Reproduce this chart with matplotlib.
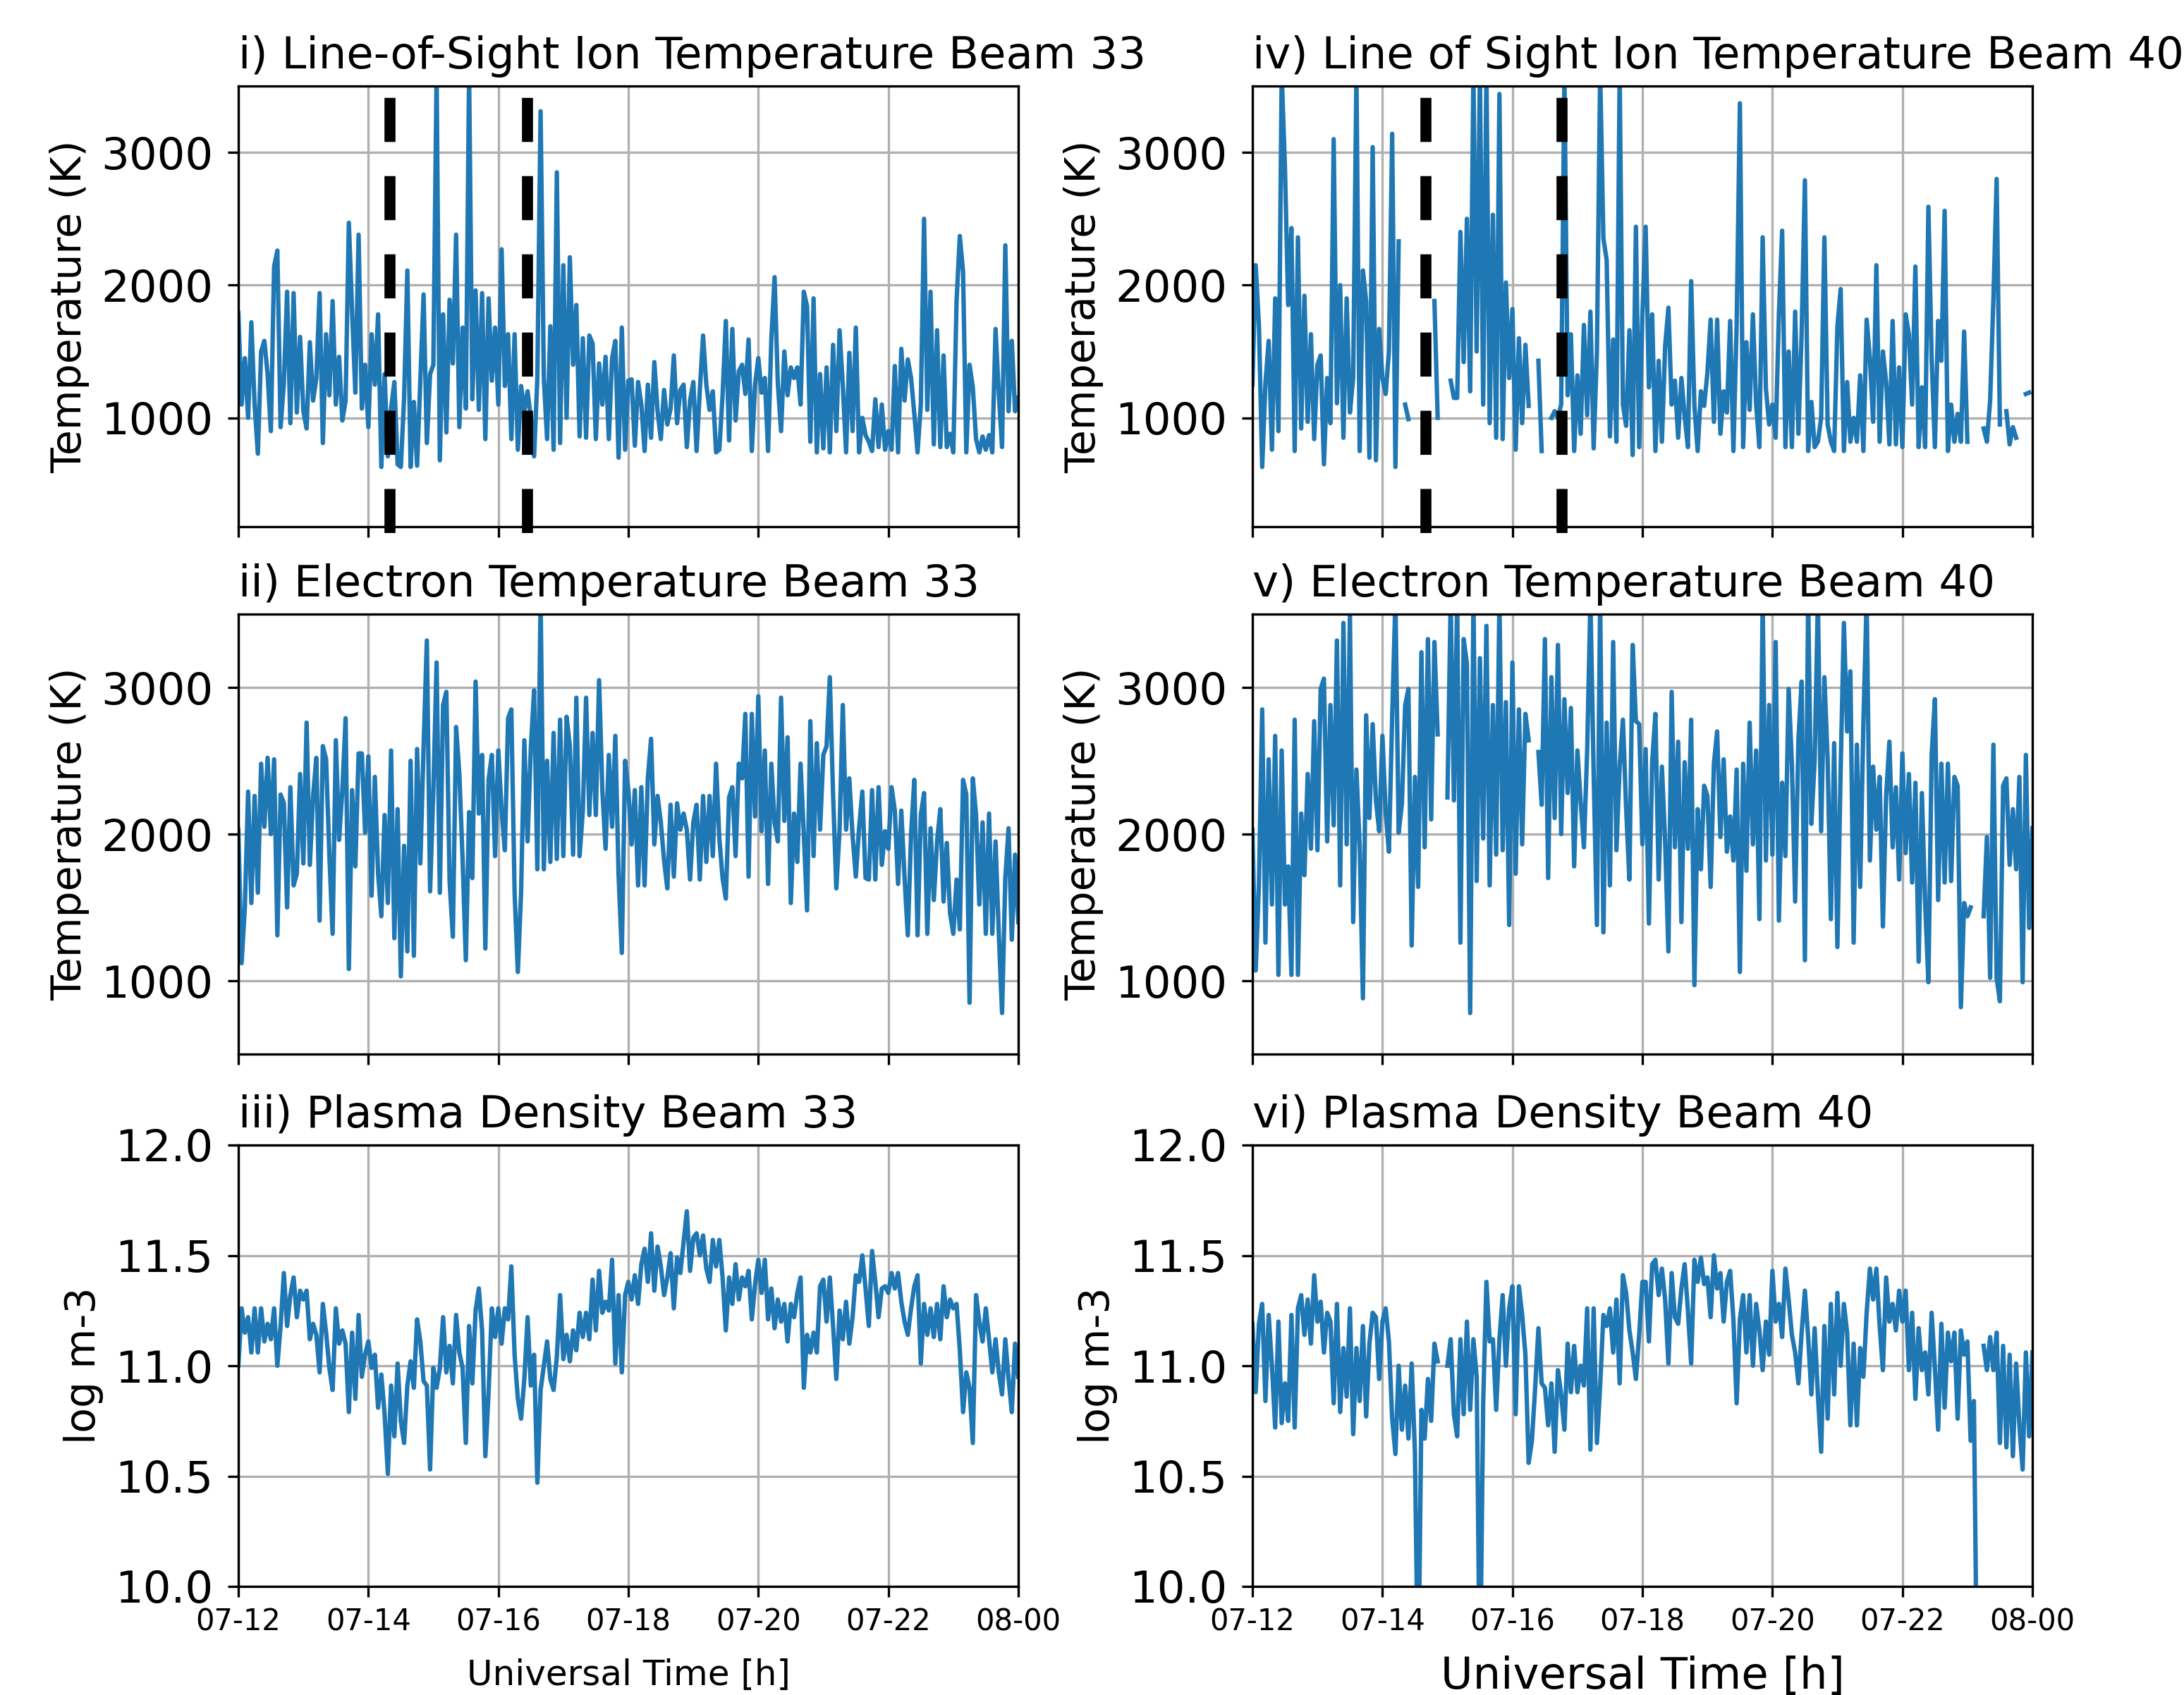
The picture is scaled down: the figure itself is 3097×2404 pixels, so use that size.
import numpy as np
import matplotlib
matplotlib.use("Agg")
import matplotlib.pyplot as plt
import matplotlib.dates as mdates

nan = np.nan

# sampling grid: 3-minute steps from 07-12 UT to 08-00 UT
t_start = np.datetime64("2021-07-07T12:00")
t_end = np.datetime64("2021-07-08T00:00")
step_min = 3

# event markers (dashed lines) on the ion temperature panels
events_33 = ["2021-07-07T14:20", "2021-07-07T16:27"]
events_40 = ["2021-07-07T14:40", "2021-07-07T16:46"]

ion_t_33 = [
    1790, 1100, 1450, 1000, 1720, 1100, 730, 1500, 1580, 1330, 900, 2140, 2260, 930, 1260, 1950, 960, 1940, 1040, 1610,
    1050, 920, 1570, 1130, 1300, 1940, 810, 1630, 1170, 1880, 1100, 1460, 980, 1130, 2470, 1800, 1190, 2380, 1070, 1400,
    930, 1630, 1250, 1780, 630, 1330, 710, 1070, 1270, 650, 630, 1150, 2110, 630, 1120, 640, 1290, 1930, 810, 1330,
    1400, 3600, 680, 1780, 890, 1890, 1410, 2380, 930, 1680, 1070, 3600, 1140, 1960, 1060, 1940, 840, 1900, 1280, 1680,
    1100, 2270, 1240, 1630, 840, 1630, 760, 1240, 1050, 1200, 1000, 710, 1300, 3310, 1300, 840, 1690, 760, 2850, 810,
    2150, 1000, 2210, 1400, 1850, 860, 1600, 850, 1620, 1560, 840, 1410, 1100, 1460, 840, 1450, 1580, 700, 1680, 760,
    1280, 1290, 790, 1270, 1100, 750, 1250, 850, 1420, 1050, 840, 1210, 950, 1070, 1470, 960, 1210, 1250, 780, 1130,
    1270, 750, 1210, 1620, 1250, 1060, 1200, 740, 760, 1170, 1730, 830, 1670, 980, 1350, 1400, 1180, 1590, 750, 1250,
    1450, 1190, 1300, 750, 1590, 2060, 1260, 900, 1500, 1170, 1380, 1300, 1380, 1100, 1950, 1840, 820, 1900, 740, 1330,
    770, 1380, 740, 1550, 900, 1660, 1240, 740, 1490, 900, 1680, 740, 1000, 870, 820, 750, 1140, 780, 1100, 760,
    900, 760, 1390, 740, 1520, 1130, 1440, 1300, 1030, 740, 1100, 2500, 1060, 1950, 800, 1660, 780, 1470, 780, 880,
    740, 1880, 2370, 2100, 740, 1400, 1230, 840, 740, 860, 760, 870, 740, 1670, 1180, 780, 2300, 1050, 1580, 1050, 1150,
]

ion_t_40 = [
    1250, 2150, 1700, 630, 1260, 1580, 760, 1900, 900, 3600, 2890, 1850, 2430, 750, 2360, 920, 1920, 970, 1630, 840,
    1400, 1470, 650, 1300, 960, 3100, 1110, 2000, 850, 1900, 1040, 1300, 3600, 750, 2110, 1880, 700, 3040, 680, 1670,
    1300, 1180, 1500, 3140, 630, 2330, nan, 1100, 990, nan, nan, nan, nan, nan, nan, nan, 1880, 1000, nan, nan,
    nan, 1280, 1150, 1150, 2400, 1420, 2500, 1200, 3600, 1500, 3600, 1100, 3600, 960, 2530, 850, 3440, 840, 2020, 1300,
    1820, 760, 1600, 960, 1550, 1090, nan, nan, 1430, 750, nan, nan, 1000, 1050, 1000, 1100, 3600, 1170, 1630, 750,
    1320, 880, 1700, 1020, 1800, 770, 1500, 3600, 2350, 2190, 860, 1590, 820, 3600, 1100, 940, 1660, 720, 2440, 780,
    1780, 2440, 1230, 1780, 750, 1430, 820, 1540, 1830, 1100, 1280, 850, 1300, 1010, 780, 2030, 1090, 750, 1200, 1090,
    1340, 1740, 970, 1740, 880, 1200, 1040, 1730, 750, 1700, 3370, 780, 1570, 1060, 1780, 1100, 780, 2360, 1220, 950,
    1100, 850, 1780, 2410, 780, 1500, 780, 1800, 880, 1640, 2790, 750, 1120, 780, 820, 1000, 2360, 950, 820, 750,
    1690, 1970, 750, 1270, 820, 1000, 820, 1320, 750, 1740, 1450, 970, 2150, 820, 1500, 1270, 800, 1730, 800, 1380,
    780, 1780, 1630, 1100, 2140, 780, 1230, 780, 2590, 1450, 780, 1730, 1430, 2560, 750, 1100, 820, 1030, 820, 1650,
    820, nan, nan, nan, nan, 920, 820, 1130, 1890, 2800, 950, nan, 1050, 800, 930, 850, nan, nan, 1180, 1190, nan,
]

elec_t_33 = [
    2030, 1120, 1500, 2290, 1530, 2260, 1600, 2480, 2050, 2520, 2000, 2510, 1310, 2270, 2210, 1500, 2320, 1650, 1730, 2410,
    1800, 2760, 1790, 2260, 2520, 1410, 2600, 2510, 1860, 1320, 2640, 1960, 2300, 2790, 1080, 2300, 1780, 2550, 2550, 2010,
    2530, 1580, 2390, 1730, 1440, 2130, 1530, 2570, 1290, 2170, 1030, 1920, 1200, 2500, 1170, 2580, 1800, 2600, 3320, 1610,
    2300, 3170, 1600, 2880, 2970, 1680, 1300, 2730, 2410, 1830, 1140, 2150, 1700, 3040, 2140, 2540, 1220, 2370, 2540, 1850,
    2570, 2160, 1890, 2790, 2850, 1600, 1060, 1600, 2640, 1950, 2590, 2980, 1760, 3600, 1760, 2500, 1810, 2690, 1830, 2780,
    1850, 2800, 2600, 1860, 2930, 1850, 2160, 2930, 2130, 2690, 2130, 3050, 2300, 1900, 2540, 2050, 2670, 1720, 1190, 2500,
    2300, 1930, 2300, 1650, 2320, 1650, 2380, 2650, 1930, 2260, 2080, 1820, 1630, 2200, 1710, 2210, 2030, 2140, 2030, 1690,
    2080, 2200, 1690, 2260, 1810, 2260, 1850, 2480, 1970, 1700, 1560, 2250, 2320, 1850, 2480, 2380, 2820, 1710, 2820, 2120,
    2940, 2020, 2570, 1660, 2480, 2080, 1950, 2930, 2090, 2660, 1530, 2140, 1810, 2480, 2000, 1480, 2770, 1850, 2620, 2030,
    2540, 2600, 3070, 2270, 1630, 2030, 2880, 2030, 2380, 1990, 1710, 2040, 2290, 1700, 1690, 2300, 1690, 2320, 1790, 2020,
    1900, 2320, 2160, 1660, 2160, 1700, 1310, 2000, 2370, 1310, 2130, 2280, 1320, 2040, 1550, 1950, 2170, 1540, 1940, 1460,
    1320, 1690, 1350, 2370, 2270, 850, 2380, 2130, 1520, 2080, 1320, 2140, 1320, 1950, 1320, 780, 1700, 2040, 1280, 1860, 1400,
]

elec_t_40 = [
    2030, 1070, 1650, 2850, 1260, 2510, 1520, 2670, 1040, 2570, 1520, 1780, 1040, 2780, 1040, 2140, 1720, 2410, 1900, 2770,
    1890, 2990, 3060, 1950, 2880, 2060, 3320, 1650, 3440, 1930, 3500, 1400, 2440, 1920, 880, 2810, 2110, 2750, 2230, 2020,
    2670, 2150, 1880, 2800, 3600, 2010, 2210, 2880, 2990, 1240, 2390, 1640, 3240, 1910, 3330, 2100, 3310, 2680, nan, nan,
    2250, 3600, 2230, 3600, 1260, 3330, 3160, 780, 3600, 1680, 3200, 1970, 3420, 1650, 2880, 1860, 3600, 1890, 2900, 1380,
    3170, 1730, 2850, 1930, 2820, 2640, nan, nan, 2560, 2200, 3330, 1700, 3070, 2110, 3290, 2000, 2920, 2280, 2860, 1780,
    2570, 2220, 1910, 2570, 3600, 2410, 1380, 3600, 1330, 2760, 1650, 3310, 1890, 2460, 2780, 2170, 1690, 3290, 2770, 2750,
    1930, 2580, 1390, 2490, 2820, 1690, 2460, 1950, 1200, 2970, 1910, 2630, 1400, 2490, 1900, 2780, 970, 2170, 1760, 2330,
    2260, 1640, 2480, 2700, 1980, 2510, 1880, 2120, 1820, 2440, 1060, 2480, 1750, 2760, 1930, 2570, 1420, 3600, 1820, 2880,
    1860, 3310, 1410, 2350, 1850, 2990, 2480, 1540, 2640, 3040, 1140, 3600, 2070, 2500, 3600, 2020, 3070, 2510, 1420, 2620,
    1230, 2440, 3440, 2700, 3110, 1260, 2610, 1640, 2760, 3600, 1820, 2460, 2030, 2390, 1370, 2260, 2630, 1910, 2320, 1690,
    2550, 1870, 2410, 1670, 2350, 1130, 2280, 1530, 990, 2540, 2920, 1550, 2480, 1670, 2480, 1680, 2390, 2330, 820, 1530,
    1440, 1500, nan, nan, nan, 1440, 1980, 1020, 2610, 1020, 860, 2330, 2380, 1790, 2170, 1760, 2390, 990, 2540, 1360, 2040,
]

dens_33 = [
    11.00, 11.26, 11.15, 11.22, 11.06, 11.26, 11.06, 11.26, 11.11, 11.19, 11.12, 11.26, 11.00, 11.18, 11.42, 11.18, 11.32, 11.40, 11.22, 11.34,
    11.30, 11.34, 11.12, 11.19, 11.14, 10.97, 11.28, 11.15, 10.99, 10.89, 11.26, 11.10, 11.16, 11.10, 10.79, 11.15, 10.85, 11.23, 10.95, 11.05,
    11.11, 10.99, 11.05, 10.81, 10.96, 10.78, 10.51, 10.91, 10.68, 11.01, 10.75, 10.65, 10.91, 11.02, 10.90, 11.21, 11.11, 10.93, 10.91, 10.53,
    10.99, 10.90, 10.99, 11.22, 10.97, 11.09, 10.92, 11.23, 11.06, 10.99, 10.65, 11.18, 10.92, 11.25, 11.35, 11.16, 10.59, 10.88, 11.26, 11.13,
    11.26, 11.10, 11.26, 11.21, 11.45, 11.05, 10.85, 10.76, 10.94, 11.22, 10.91, 11.05, 10.47, 10.89, 11.00, 11.11, 10.94, 10.89, 11.04, 11.32,
    11.03, 11.14, 11.02, 11.16, 11.07, 11.24, 11.13, 11.24, 11.12, 11.39, 11.16, 11.43, 11.24, 11.29, 11.25, 11.48, 11.01, 11.32, 10.97, 11.32,
    11.38, 11.30, 11.41, 11.28, 11.46, 11.53, 11.38, 11.60, 11.34, 11.54, 11.45, 11.32, 11.40, 11.51, 11.26, 11.49, 11.42, 11.56, 11.70, 11.43,
    11.58, 11.60, 11.50, 11.59, 11.44, 11.38, 11.57, 11.45, 11.57, 11.40, 11.16, 11.40, 11.28, 11.46, 11.30, 11.40, 11.36, 11.43, 11.21, 11.37,
    11.48, 11.33, 11.48, 11.21, 11.35, 11.17, 11.30, 11.20, 11.28, 11.11, 11.28, 11.22, 11.33, 11.40, 10.90, 11.14, 11.06, 11.15, 11.06, 11.36,
    11.39, 11.20, 11.40, 11.18, 10.94, 11.25, 11.12, 11.29, 11.10, 11.22, 11.41, 11.38, 11.50, 11.35, 11.18, 11.52, 11.38, 11.22, 11.35, 11.36,
    11.33, 11.42, 11.35, 11.42, 11.29, 11.20, 11.14, 11.26, 11.36, 11.41, 11.01, 11.28, 11.14, 11.26, 11.13, 11.28, 11.12, 11.36, 11.22, 11.30,
    11.26, 11.28, 11.07, 10.79, 10.97, 10.90, 10.65, 11.32, 11.20, 11.11, 11.26, 11.12, 10.97, 11.12, 10.97, 10.87, 11.12, 10.94, 10.79, 11.10, 10.95,
]

dens_40 = [
    11.19, 10.88, 11.19, 11.28, 10.84, 11.23, 11.00, 10.72, 11.20, 10.74, 10.92, 10.75, 11.23, 10.72, 11.26, 11.32, 11.14, 11.30, 11.10, 11.41,
    11.20, 11.29, 11.06, 11.24, 11.20, 10.83, 11.28, 10.79, 11.08, 10.86, 11.26, 10.69, 11.08, 10.84, 11.18, 10.77, 11.10, 11.24, 11.22, 10.94,
    11.20, 11.26, 11.11, 10.76, 10.60, 11.00, 10.71, 10.91, 10.67, 11.01, 10.61, 9.50, 10.80, 10.67, 10.94, 10.75, 11.10, 11.02, nan, nan,
    11.00, 11.12, 10.78, 10.68, 11.12, 10.78, 11.20, 10.80, 11.12, 10.95, 9.50, 10.83, 11.38, 11.11, 11.12, 10.80, 11.12, 11.32, 11.00, 11.26,
    11.36, 10.78, 11.36, 11.23, 11.05, 10.56, 10.66, 10.90, 11.17, 10.92, 10.90, 10.73, 10.92, 10.61, 10.98, 10.87, 10.71, 11.10, 10.88, 11.09,
    10.88, 11.00, 10.91, 11.26, 10.62, 11.26, 10.65, 10.91, 11.23, 11.18, 11.26, 11.06, 11.30, 10.92, 11.41, 11.33, 11.16, 11.06, 10.94, 11.14,
    11.38, 11.38, 11.11, 11.46, 11.48, 11.32, 11.44, 11.30, 11.01, 11.42, 11.22, 11.19, 11.35, 11.46, 11.25, 11.01, 11.48, 11.38, 11.49, 11.37,
    11.40, 11.22, 11.50, 11.35, 11.42, 11.20, 11.38, 11.43, 11.21, 10.83, 11.21, 11.32, 11.06, 11.32, 11.00, 11.28, 11.16, 10.98, 11.20, 11.05,
    11.43, 11.20, 11.28, 11.13, 11.44, 11.30, 11.14, 11.06, 10.92, 11.15, 11.34, 11.13, 10.87, 11.17, 10.87, 10.61, 11.18, 10.76, 11.28, 10.87,
    11.33, 11.00, 11.28, 11.15, 10.73, 11.10, 10.73, 11.08, 10.95, 11.24, 11.44, 11.30, 11.44, 11.18, 10.98, 11.40, 11.20, 11.28, 11.16, 11.34,
    11.20, 11.34, 10.98, 11.24, 10.85, 11.17, 10.98, 11.06, 10.87, 11.24, 10.99, 10.71, 11.19, 10.81, 11.15, 11.02, 11.15, 10.76, 11.16, 11.05,
    11.11, 10.66, 10.84, 9.50, nan, 11.09, 10.98, 11.13, 10.98, 11.15, 10.65, 11.09, 10.63, 11.05, 10.59, 11.01, 10.73, 10.53, 11.06, 10.68, 11.06,
]

titles = [
    "i) Line-of-Sight Ion Temperature Beam 33",
    "ii) Electron Temperature Beam 33",
    "iii) Plasma Density Beam 33",
    "iv) Line of Sight Ion Temperature Beam 40",
    "v) Electron Temperature Beam 40",
    "vi) Plasma Density Beam 40",
]

W, H = 3097, 2404
DPI = 300
fig = plt.figure(figsize=(W / DPI, H / DPI), dpi=DPI)

times = t_start + np.arange(len(ion_t_33)) * np.timedelta64(step_min, "m")
times = times.astype("datetime64[s]").astype(object)

# axes boxes in pixels: (left, right) and (top, bottom)
col_x = [(338, 1444), (1776, 2882)]
row_y = [(122, 747), (871, 1495), (1624, 2250)]

series = [[ion_t_33, elec_t_33, dens_33], [ion_t_40, elec_t_40, dens_40]]
events = [events_33, events_40]

for c in range(2):
    for r in range(3):
        x0, x1 = col_x[c]
        y0, y1 = row_y[r]
        ax = fig.add_axes([x0 / W, 1 - y1 / H, (x1 - x0) / W, (y1 - y0) / H])
        ax.plot(times, series[c][r], color="#1f77b4", lw=1.5)
        ax.grid(True, color="#b0b0b0", lw=0.8)
        ax.set_axisbelow(True)
        ax.set_title(titles[c * 3 + r], loc="left", fontsize=15, pad=6)
        ax.set_xlim(t_start.astype(object), t_end.astype(object))
        ax.xaxis.set_major_locator(mdates.HourLocator(byhour=range(0, 24, 2)))
        ax.xaxis.set_major_formatter(mdates.DateFormatter("%d-%H"))
        ax.tick_params(axis="y", labelsize=15, pad=5)
        ax.tick_params(axis="x", labelsize=10)

        if r == 0:
            ax.set_ylim(180, 3500)
            ax.set_yticks([1000, 2000, 3000])
            ax.set_ylabel("Temperature (K)", fontsize=14)
            for ev in events[c]:
                ax.axvline(np.datetime64(ev).astype(object), ymin=-0.015, ymax=1,
                           color="black", lw=3.75, linestyle=(0, (4.0, 3.1)),
                           clip_on=False)
        elif r == 1:
            ax.set_ylim(500, 3500)
            ax.set_yticks([1000, 2000, 3000])
            ax.set_ylabel("Temperature (K)", fontsize=14)
        else:
            ax.set_ylim(10.0, 12.0)
            ax.set_yticks([10.0, 10.5, 11.0, 11.5, 12.0])
            ax.set_ylabel("log m-3", fontsize=14)
            if c == 0:
                ax.set_xlabel("Universal Time [h]", fontsize=12, labelpad=7.5)
            else:
                ax.set_xlabel("Universal Time [h]", fontsize=15, labelpad=6.4)

        if r < 2:
            ax.tick_params(axis="x", labelbottom=False)

fig.savefig("out.png", dpi=DPI)
